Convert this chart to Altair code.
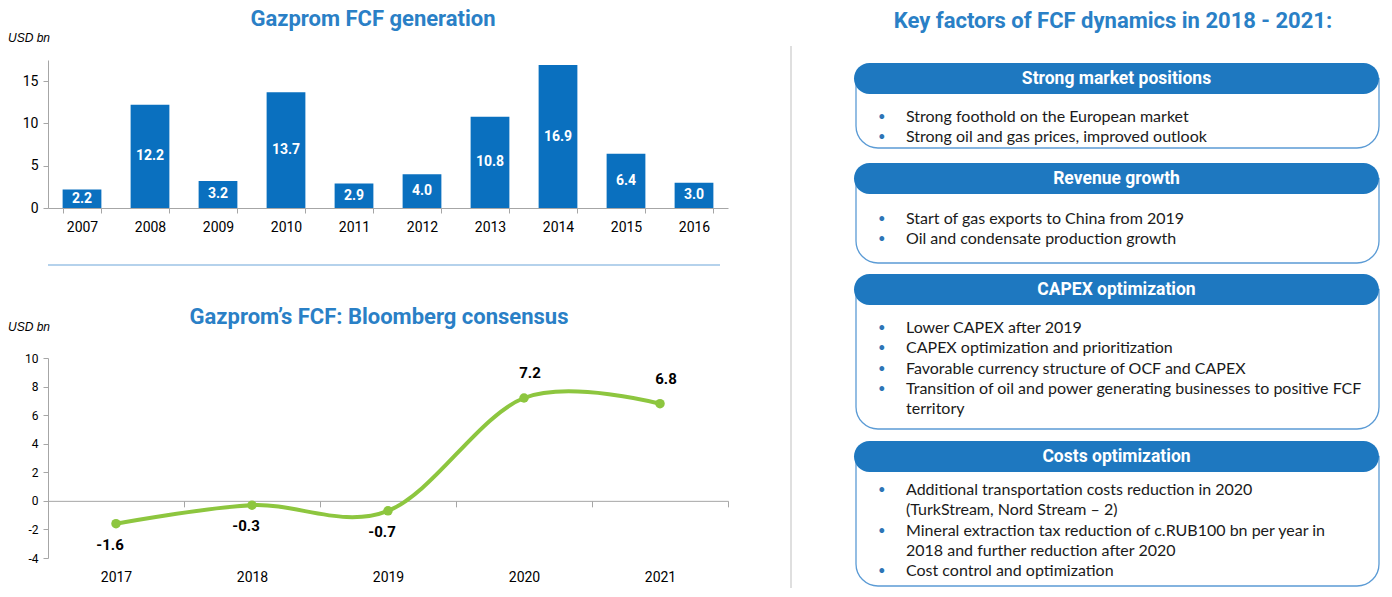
import altair as alt
import pandas as pd

# ---------------- data ----------------
hist_years = ["2007", "2008", "2009", "2010", "2011", "2012", "2013", "2014", "2015", "2016"]
hist_fcf = [2.2, 12.2, 3.2, 13.7, 2.9, 4.0, 10.8, 16.9, 6.4, 3.0]

cons_years = ["2017", "2018", "2019", "2020", "2021"]
cons_fcf = [-1.6, -0.3, -0.7, 7.2, 6.8]

bar_title = "Gazprom FCF generation"
line_title = "Gazprom’s FCF: Bloomberg consensus"
unit_label = "USD bn"
panel_title = "Key  factors of FCF dynamics in 2018 - 2021:"

box_headers = ["Strong market positions", "Revenue growth", "CAPEX optimization", "Costs optimization"]
box_items = [
    ["Strong foothold on the European market",
     "Strong oil and gas prices, improved outlook"],
    ["Start of gas exports to China from 2019",
     "Oil and condensate production growth"],
    ["Lower CAPEX after 2019",
     "CAPEX optimization and prioritization",
     "Favorable currency structure of OCF and CAPEX",
     "Transition of oil and power generating businesses to positive FCF\nterritory"],
    ["Additional transportation costs reduction in 2020\n(TurkStream, Nord Stream – 2)",
     "Mineral extraction tax reduction of c.RUB100 bn per year in\n2018 and further reduction after 2020",
     "Cost control and optimization"],
]

# ---------------- styles / layout ----------------
NARROW = "Roboto, sans-serif"
BODY = "Lato, Noto Sans, sans-serif"
TITLE_BLUE = "#2a80c6"
BAR_BLUE = "#0a70bf"
HDR_BLUE = "#1e78c0"
GREEN = "#8dc63f"
GREY = "#a6a6a6"
LABEL_EXPR = "replace(format(datum.fcf, '.1f'), '\u2212', '-')"

W = 680
HB = 148
HL = 200

# ---------------- bar chart ----------------
df_hist = pd.DataFrame({"year": hist_years, "fcf": hist_fcf})

xh = alt.X("year:N", title=None, sort=None,
           scale=alt.Scale(paddingInner=0.43, paddingOuter=0.215),
           axis=alt.Axis(labelAngle=0, tickBand="extent", domainColor=GREY, tickColor=GREY,
                         tickSize=5, labelFont=NARROW, labelFontSize=14, labelColor="#000",
                         labelPadding=7))
yh = alt.Y("fcf:Q", title=None, scale=alt.Scale(domain=[0, 17.5], nice=False),
           axis=alt.Axis(values=[0, 5, 10, 15], grid=False, domainColor=GREY, tickColor=GREY,
                         tickSize=5, labelFont=NARROW, labelFontSize=14, labelColor="#000",
                         labelPadding=5))

bars = alt.Chart(df_hist).mark_bar(color=BAR_BLUE).encode(x=xh, y=yh)
bar_labels = alt.Chart(df_hist).transform_calculate(
    mid="datum.fcf / 2", lbl=LABEL_EXPR
).mark_text(
    color="white", font=NARROW, fontSize=14, fontWeight="bold", baseline="middle"
).encode(x=alt.X("year:N", sort=None), y=alt.Y("mid:Q"), text="lbl:N")

t1 = alt.Chart(pd.DataFrame({"t": [bar_title]})).mark_text(
    align="center", baseline="alphabetic", font=NARROW, fontSize=22, fontWeight="bold",
    color=TITLE_BLUE
).encode(x=alt.value(325), y=alt.value(-34), text="t:N")
u1 = alt.Chart(pd.DataFrame({"t": [unit_label]})).mark_text(
    align="left", baseline="alphabetic", font="Liberation Sans, Arial, sans-serif",
    fontSize=12, fontStyle="italic", color="#000"
).encode(x=alt.value(-40), y=alt.value(-18), text="t:N")
sep = alt.Chart(pd.DataFrame({"t": [0]})).mark_rule(color="#9dc3e6", strokeWidth=1.5).encode(
    x=alt.value(0), x2=alt.value(672), y=alt.value(205))

bar_chart = alt.layer(bars, bar_labels, t1, u1, sep).properties(width=W, height=HB)

# ---------------- line chart ----------------
df_cons = pd.DataFrame({"year": cons_years, "fcf": cons_fcf})
zero_off = HL * 4 / 14

xc = alt.X("year:N", sort=None, bandPosition=0.5, title=None,
           scale=alt.Scale(type="band", paddingInner=0, paddingOuter=0),
           axis=alt.Axis(labelAngle=0, tickBand="extent", offset=-zero_off, domainColor=GREY,
                         tickColor=GREY, tickSize=6, labelFont=NARROW, labelFontSize=14,
                         labelColor="#000", labelPadding=zero_off + 12 - 6))
yc = alt.Y("fcf:Q", title=None, scale=alt.Scale(domain=[-4, 10], nice=False),
           axis=alt.Axis(values=list(range(-4, 11, 2)), grid=False, domainColor=GREY,
                         tickColor=GREY, tickSize=5, labelFont=NARROW, labelFontSize=12,
                         labelColor="#000", labelPadding=5,
                         labelExpr="toString(datum.value)"))

base_c = alt.Chart(df_cons)
line = base_c.mark_line(color=GREEN, strokeWidth=4, interpolate="cardinal").encode(x=xc, y=yc)
pts = base_c.mark_circle(color=GREEN, size=90, opacity=1).encode(x=xc, y=yc)
lab_neg = base_c.transform_filter("datum.fcf < 0").transform_calculate(lbl=LABEL_EXPR).mark_text(
    font=NARROW, fontSize=15, fontWeight="bold", color="#000", dy=21, dx=-6
).encode(x=xc, y=yc, text="lbl:N")
lab_pos = base_c.transform_filter("datum.fcf >= 0").transform_calculate(lbl=LABEL_EXPR).mark_text(
    font=NARROW, fontSize=15, fontWeight="bold", color="#000", dy=-25, dx=6
).encode(x=xc, y=yc, text="lbl:N")

t2 = alt.Chart(pd.DataFrame({"t": [line_title]})).mark_text(
    align="center", baseline="alphabetic", font=NARROW, fontSize=22, fontWeight="bold",
    color=TITLE_BLUE
).encode(x=alt.value(331), y=alt.value(-34), text="t:N")
u2 = alt.Chart(pd.DataFrame({"t": [unit_label]})).mark_text(
    align="left", baseline="alphabetic", font="Liberation Sans, Arial, sans-serif",
    fontSize=12, fontStyle="italic", color="#000"
).encode(x=alt.value(-40), y=alt.value(-27), text="t:N")

line_chart = alt.layer(line, pts, lab_neg, lab_pos, t2, u2).properties(width=W, height=HL)

# ---------------- right panel ----------------
# panel origin sits level with the top of the bar plot area
RW, RH = 600, 526
hdr_top = [3, 103, 214, 381]
hdr_h = 31
body_bottom = [88, 203, 369, 526]
first_line = [57, 159, 268, 430]
line_gap = 20.3
box_x0, box_x1 = 73, 598
bullet_x, text_x = 97, 125

hdr_df = pd.DataFrame({
    "label": box_headers,
    "x": [box_x0] * 4, "x2": [box_x1] * 4,
    "y": hdr_top, "y2": [t + hdr_h for t in hdr_top],
    "ym": [t + hdr_h / 2 for t in hdr_top],
    "xm": [(box_x0 + box_x1) / 2] * 4,
})
body_df = pd.DataFrame({
    "x": [box_x0 + 2] * 4, "x2": [box_x1] * 4,
    "y": [t + hdr_h / 2 for t in hdr_top], "y2": body_bottom,
})
rows = []
for b, items in enumerate(box_items):
    k = 0
    for item in items:
        for j, part in enumerate(item.split("\n")):
            rows.append({"text": part, "bullet": "•" if j == 0 else "",
                         "y": first_line[b] + k * line_gap})
            k += 1
lines_df = pd.DataFrame(rows)

PX = lambda f: alt.X(f, scale=None, axis=None)
PY = lambda f: alt.Y(f, scale=None, axis=None)

vline = alt.Chart(pd.DataFrame({"t": [0]})).mark_rule(color="#bfbfbf", strokeWidth=1).encode(
    x=alt.value(10), y=alt.value(-14), y2=alt.value(RH + 2))
t3 = alt.Chart(pd.DataFrame({"t": [panel_title]})).mark_text(
    align="center", baseline="alphabetic", font=NARROW, fontSize=22, fontWeight="bold",
    color=TITLE_BLUE
).encode(x=alt.value(332), y=alt.value(-32), text="t:N")
bodies = alt.Chart(body_df).mark_rect(
    fill="white", stroke="#5b9bd5", strokeWidth=1.3,
    cornerRadiusBottomLeft=22, cornerRadiusBottomRight=22
).encode(x=PX("x:Q"), x2="x2:Q", y=PY("y:Q"), y2="y2:Q")
hdrs = alt.Chart(hdr_df).mark_rect(fill=HDR_BLUE, cornerRadius=15.5).encode(
    x=PX("x:Q"), x2="x2:Q", y=PY("y:Q"), y2="y2:Q")
hdr_text = alt.Chart(hdr_df).mark_text(
    font=NARROW, fontSize=17.5, fontWeight="bold", color="white", baseline="middle", align="center"
).encode(x=PX("xm:Q"), y=PY("ym:Q"), text="label:N")
bul = alt.Chart(lines_df).mark_text(
    font=BODY, fontSize=13, color="#2e75b6", baseline="middle", align="left"
).encode(x=alt.value(bullet_x), y=PY("y:Q"), text="bullet:N")
txt = alt.Chart(lines_df).mark_text(
    font=BODY, fontSize=16, color="#1a1a1a", baseline="middle", align="left"
).encode(x=alt.value(text_x), y=PY("y:Q"), text="text:N")

right = alt.layer(vline, t3, bodies, hdrs, hdr_text, bul, txt).properties(width=RW, height=RH)

left = alt.vconcat(bar_chart, line_chart, spacing=40)
chart = alt.hconcat(left, right, spacing=52).properties(padding=0).configure_view(stroke=None)

chart.save("out.html", embed_options={"renderer": "svg", "actions": False})
